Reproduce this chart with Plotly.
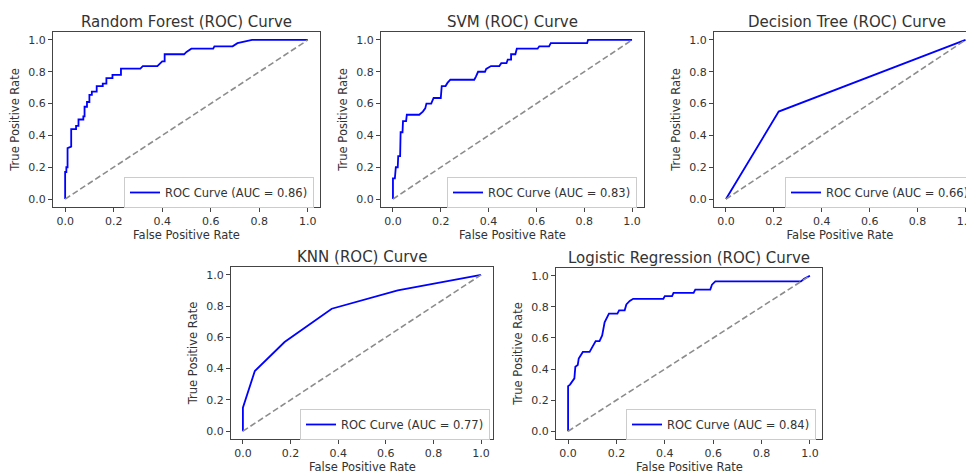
import plotly.graph_objects as go

# ---------------- data ----------------
models = ["Random Forest", "SVM", "Decision Tree", "KNN", "Logistic Regression"]
auc_values = [0.86, 0.83, 0.66, 0.77, 0.84]

rf_points = [(0, 0), (0, 0.17), (0.005, 0.17), (0.005, 0.2), (0.01, 0.2), (0.01, 0.32),
             (0.025, 0.33), (0.025, 0.44), (0.045, 0.44), (0.045, 0.46), (0.055, 0.46),
             (0.055, 0.5), (0.075, 0.5), (0.075, 0.52), (0.08, 0.52), (0.08, 0.58),
             (0.09, 0.58), (0.09, 0.61), (0.1, 0.61), (0.1, 0.655), (0.11, 0.655),
             (0.11, 0.675), (0.13, 0.675), (0.13, 0.71), (0.155, 0.71), (0.155, 0.725),
             (0.17, 0.725), (0.17, 0.76), (0.195, 0.76), (0.195, 0.78), (0.23, 0.78),
             (0.23, 0.82), (0.31, 0.82), (0.32, 0.835), (0.38, 0.835), (0.4, 0.865),
             (0.41, 0.865), (0.41, 0.91), (0.49, 0.91), (0.5, 0.925), (0.52, 0.945),
             (0.61, 0.945), (0.615, 0.96), (0.69, 0.96), (0.71, 0.98), (0.77, 1.0), (1.0, 1.0)]

svm_points = [(0, 0), (0, 0.13), (0.008, 0.13), (0.012, 0.2), (0.02, 0.2), (0.022, 0.27),
              (0.03, 0.27), (0.032, 0.42), (0.04, 0.42), (0.042, 0.49), (0.055, 0.49),
              (0.058, 0.53), (0.11, 0.53), (0.125, 0.55), (0.135, 0.57), (0.14, 0.6),
              (0.16, 0.6), (0.17, 0.635), (0.2, 0.635), (0.204, 0.71), (0.22, 0.71),
              (0.228, 0.73), (0.24, 0.75), (0.34, 0.75), (0.347, 0.77), (0.356, 0.8),
              (0.385, 0.8), (0.39, 0.818), (0.41, 0.836), (0.445, 0.836), (0.453, 0.854),
              (0.475, 0.854), (0.48, 0.876), (0.494, 0.876), (0.494, 0.91), (0.512, 0.91),
              (0.518, 0.945), (0.605, 0.945), (0.612, 0.96), (0.653, 0.96), (0.66, 0.98),
              (0.812, 0.98), (0.816, 1.0), (1.0, 1.0)]

dt_points = [(0, 0), (0.22, 0.55), (1.0, 1.0)]

knn_points = [(0, 0), (0, 0.15), (0.05, 0.385), (0.175, 0.57), (0.373, 0.783),
              (0.65, 0.9), (1.0, 1.0)]

lr_points = [(0, 0), (0, 0.29), (0.008, 0.3), (0.017, 0.32), (0.026, 0.34), (0.03, 0.415),
             (0.04, 0.426), (0.044, 0.468), (0.054, 0.49), (0.061, 0.51), (0.089, 0.51),
             (0.096, 0.53), (0.105, 0.563), (0.114, 0.58), (0.13, 0.58), (0.141, 0.616),
             (0.151, 0.7), (0.158, 0.72), (0.169, 0.757), (0.204, 0.757), (0.211, 0.778),
             (0.234, 0.778), (0.241, 0.816), (0.255, 0.838), (0.269, 0.852), (0.394, 0.852),
             (0.4, 0.869), (0.43, 0.869), (0.436, 0.89), (0.519, 0.89), (0.526, 0.911),
             (0.588, 0.911), (0.595, 0.943), (0.609, 0.964), (0.963, 0.964), (0.976, 0.98),
             (1.0, 1.0)]

diag_x = [0, 1]
diag_y = [0, 1]
tick_vals = [0.0, 0.2, 0.4, 0.6, 0.8, 1.0]
tick_text = ["0.0", "0.2", "0.4", "0.6", "0.8", "1.0"]
x_title = "False Positive Rate"
y_title = "True Positive Rate"

curves = [rf_points, svm_points, dt_points, knn_points, lr_points]

# ---------------- layout geometry ----------------
W, H = 966, 475
# (left, right, top, bottom) of each axes frame in pixels
frames = [(53, 320, 32, 207), (381, 644, 32, 207), (714, 966, 32, 207),
          (231, 493, 267, 439), (556, 822, 268, 439)]
xranges = [[-0.05, 1.05], [-0.05, 1.05], [-0.05, 1.002], [-0.05, 1.05], [-0.05, 1.05]]
title_cx = [186.5, 512.5, 847, 362, 689]
# legend anchor (x px, xanchor, bottom px)
legend_pos = [(314, "right", 208), (637, "right", 208), (785, "left", 208),
              (490, "right", 440), (816, "right", 440)]

FONT = "DejaVu Sans"
TXT = "#333333"
fig = go.Figure()

for i, (name, pts, auc) in enumerate(zip(models, curves, auc_values)):
    n = "" if i == 0 else str(i + 1)
    xa, ya = "x" + n, "y" + n
    lg = "legend" + n
    fx = [p[0] for p in pts]
    fy = [p[1] for p in pts]
    fig.add_trace(go.Scatter(x=fx, y=fy, mode="lines", xaxis=xa, yaxis=ya,
                             line=dict(color="#0000ff", width=1.8),
                             name=f"ROC Curve (AUC = {auc:.2f})", legend=lg,
                             showlegend=True))
    fig.add_trace(go.Scatter(x=diag_x, y=diag_y, mode="lines", xaxis=xa, yaxis=ya,
                             line=dict(color="#8c8c8c", width=1.6, dash="6px,3px"),
                             showlegend=False, hoverinfo="skip"))

    l, r, t, b = frames[i]
    top_row = i < 3
    axcommon = dict(showline=True, mirror=True, linecolor="#444444", linewidth=1,
                    ticks="outside", ticklen=4, tickwidth=1, tickcolor="#444444",
                    tickvals=tick_vals, ticktext=tick_text, showgrid=False,
                    zeroline=False, tickfont=dict(family=FONT, size=11, color=TXT))
    xtitle = dict(text=x_title, standoff=1,
                  font=dict(family=FONT, size=11.5, color=TXT)) if top_row else None
    fig.layout["xaxis" + n] = dict(axcommon, domain=[l / W, r / W], range=xranges[i],
                                   anchor=ya, title=xtitle, ticklabeloverflow="allow")
    fig.layout["yaxis" + n] = dict(axcommon, domain=[1 - b / H, 1 - t / H], range=[-0.05, 1.05],
                                   anchor=xa,
                                   title=dict(text=y_title, standoff=6,
                                              font=dict(family=FONT, size=11.5, color=TXT)))
    if not top_row:
        # bottom-row x titles sit at the very bottom edge of the figure
        fig.add_annotation(text=x_title, x=(l + r) / 2 / W, y=0, xref="paper", yref="paper",
                           xanchor="center", yanchor="bottom", yshift=-1, showarrow=False,
                           font=dict(family=FONT, size=11.5, color=TXT))
    lx, lxa, lb = legend_pos[i]
    fig.layout[lg] = dict(x=lx / W, xanchor=lxa, y=1 - lb / H, yanchor="bottom",
                          bgcolor="rgba(255,255,255,0.85)", bordercolor="#cccccc",
                          borderwidth=1, font=dict(family=FONT, size=11.5, color=TXT))
    fig.add_annotation(text=f"{name} (ROC) Curve", x=title_cx[i] / W, y=1 - t / H,
                       xref="paper", yref="paper", xanchor="center", yanchor="bottom",
                       yshift=-1, showarrow=False,
                       font=dict(family=FONT, size=15, color=TXT))

fig.update_layout(width=W, height=H, margin=dict(l=0, r=0, t=0, b=0, autoexpand=False),
                  paper_bgcolor="white", plot_bgcolor="white",
                  font=dict(family=FONT, color=TXT))

fig.write_html("out.html", config={"displayModeBar": False},
               post_script="document.body.style.margin='0';"
                           "document.body.style.overflow='hidden';")
